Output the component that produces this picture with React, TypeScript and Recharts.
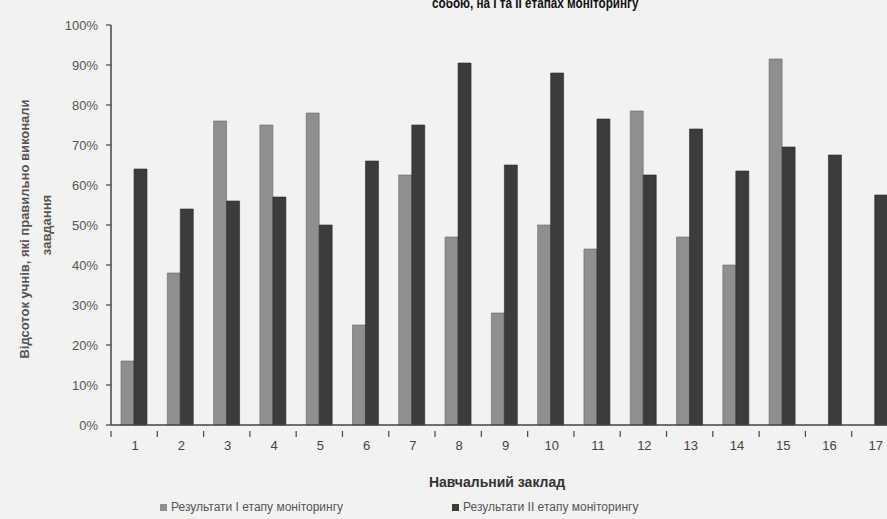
import React from 'react';
import { BarChart, Bar, XAxis, YAxis, Label } from 'recharts';

const categories = ['1', '2', '3', '4', '5', '6', '7', '8', '9', '10', '11', '12', '13', '14', '15', '16', '17'];
const stage1 = [16, 38, 76, 75, 78, 25, 62.5, 47, 28, 50, 44, 78.5, 47, 40, 91.5, null, null];
const stage2 = [64, 54, 56, 57, 50, 66, 75, 90.5, 65, 88, 76.5, 62.5, 74, 63.5, 69.5, 67.5, 57.5];
const yTicks = [0, 10, 20, 30, 40, 50, 60, 70, 80, 90, 100];
const seriesNames = ['Результати І етапу моніторингу', 'Результати ІІ етапу моніторингу'];
const titleText = 'собою, на І та ІІ етапах моніторингу';
const yTitle = ['Відсоток учнів, які правильно виконали', 'завдання'];
const xTitle = 'Навчальний заклад';

const data = categories.map((c, i) => ({ name: c, s1: stage1[i], s2: stage2[i] }));

const FONT = '"Liberation Sans", Arial, sans-serif';
const CHART_W = 900;
const CHART_H = 519;
const M = { top: 25, right: 2, bottom: 54, left: 0 };
const Y_W = 111;
const BAND = (CHART_W - M.left - M.right - Y_W) / categories.length;

const LIGHT = '#8f8f8f';
const DARK = '#3c3c3c';

const XTick = (props: any) => {
  const { x, y, payload } = props;
  return (
    <g>
      <line x1={x - BAND / 2} x2={x - BAND / 2} y1={y - 2} y2={y + 4} stroke="#444" strokeWidth={1.2} />
      <text x={x + 1} y={y + 17} textAnchor="middle" fontSize={13} fill="#444" fontFamily={FONT}>
        {payload.value}
      </text>
    </g>
  );
};

const YTitle = () => (
  <g fontFamily={FONT} fontSize={13} fill="#555" fontWeight="bold">
    <text transform="translate(29,229) rotate(-90)" textAnchor="middle">{yTitle[0]}</text>
    <text transform="translate(51,225) rotate(-90)" textAnchor="middle">{yTitle[1]}</text>
  </g>
);

const XTitle = () => (
  <text x={497} y={487} textAnchor="middle" fontFamily={FONT} fontSize={14} fontWeight="bold" fill="#333">
    {xTitle}
  </text>
);

const LegendBox = () => (
  <div style={{ position: 'absolute', left: 0, top: 500, width: 887, height: 16, fontFamily: FONT, fontSize: 12, color: '#555' }}>
    <div style={{ position: 'absolute', left: 160, top: 0, display: 'flex', alignItems: 'center', whiteSpace: 'nowrap' }}>
      <span style={{ width: 7, height: 7, background: LIGHT, display: 'inline-block', marginRight: 4 }} />
      {seriesNames[0]}
    </div>
    <div style={{ position: 'absolute', left: 452, top: 0, display: 'flex', alignItems: 'center', whiteSpace: 'nowrap' }}>
      <span style={{ width: 7, height: 7, background: DARK, display: 'inline-block', marginRight: 4 }} />
      {seriesNames[1]}
    </div>
  </div>
);

export default function App() {
  return (
    <div style={{ position: 'fixed', left: 0, top: 0, width: 887, height: 519, overflow: 'hidden', background: '#f2f2f0' }}>
      <div style={{ position: 'absolute', left: 432, top: -6, fontFamily: FONT, fontWeight: 'bold', fontSize: 15, color: '#111', whiteSpace: 'nowrap', transform: 'scaleX(0.78)', transformOrigin: 'left top' }}>
        {titleText}
      </div>
      <div style={{ position: 'absolute', left: 0, top: 0 }}>
        <BarChart width={CHART_W} height={CHART_H} data={data} margin={M} barGap={0} barSize={13}>
          <XAxis
            dataKey="name"
            tick={<XTick />}
            tickLine={false}
            axisLine={{ stroke: '#444', strokeWidth: 1.5 }}
            interval={0}
            height={40}
          >
            <Label content={<XTitle />} />
          </XAxis>
          <YAxis
            width={Y_W}
            domain={[0, 100]}
            ticks={yTicks}
            interval={0}
            tickFormatter={(v: number) => `${v}%`}
            tick={{ fontSize: 13, fill: '#555', fontFamily: FONT }}
            tickSize={5}
            tickMargin={8}
            tickLine={{ stroke: '#444', strokeWidth: 1.2 }}
            axisLine={{ stroke: '#444', strokeWidth: 1.5 }}
          >
            <Label content={<YTitle />} />
          </YAxis>
          <Bar dataKey="s1" name={seriesNames[0]} fill={LIGHT} stroke="#666" strokeWidth={0.6} isAnimationActive={false} />
          <Bar dataKey="s2" name={seriesNames[1]} fill={DARK} stroke="#2a2a2a" strokeWidth={0.6} isAnimationActive={false} />
        </BarChart>
      </div>
      <LegendBox />
    </div>
  );
}
